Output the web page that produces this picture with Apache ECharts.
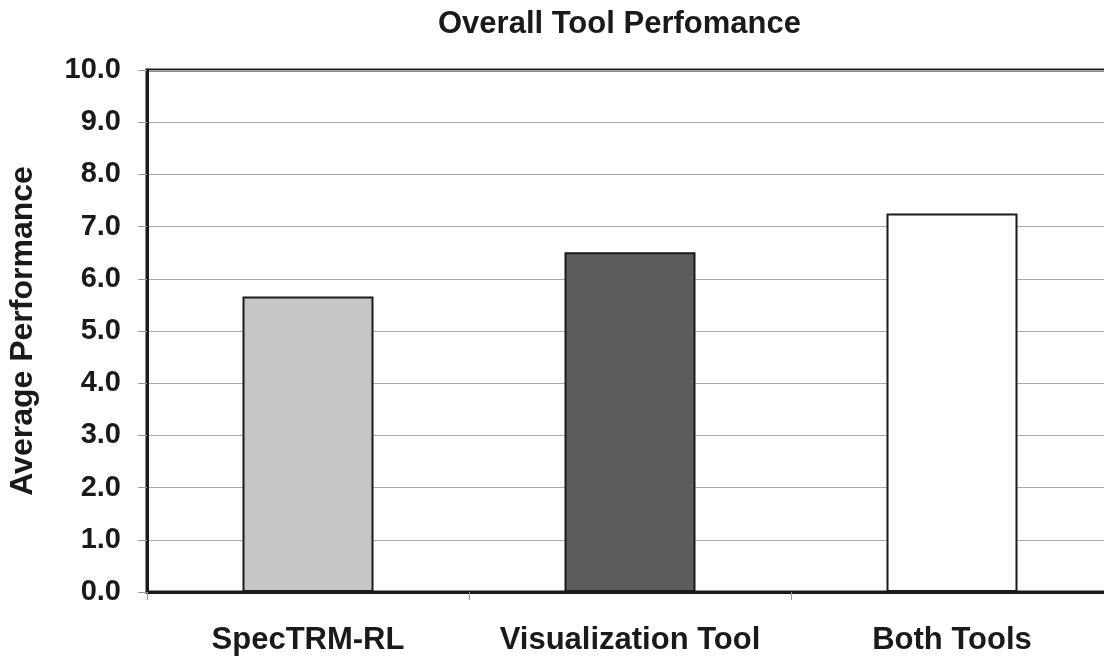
<!DOCTYPE html>
<html>
<head>
<meta charset="utf-8">
<script src="https://cdn.jsdelivr.net/npm/echarts@6/dist/echarts.min.js"></script>
<style>
html,body{margin:0;padding:0;background:#fff;}
#chart{width:1104px;height:656px;}
</style>
</head>
<body>
<div id="chart"></div>
<script>
const categories = ['SpecTRM-RL', 'Visualization Tool', 'Both Tools'];
const values = [5.66, 6.51, 7.25];
const barColors = ['#c6c6c6', '#5c5c5c', '#ffffff'];
const titleText = 'Overall Tool Perfomance';
const yAxisName = 'Average Performance';

const FONT = "'Liberation Sans', Arial, sans-serif";
const chart = echarts.init(document.getElementById('chart'), null, {renderer: 'canvas'});
chart.setOption({
  animation: false,
  backgroundColor: '#ffffff',
  title: {
    text: titleText,
    left: 433,
    top: 4,
    textStyle: {fontFamily: FONT, fontWeight: 'bold', fontSize: 31, color: '#1a1a1a'}
  },
  grid: {
    left: 147, top: 70, right: -9, bottom: 64,
    outerBoundsMode: 'none',
    containLabel: false,
    show: true, borderColor: '#1a1a1a', borderWidth: 3, backgroundColor: 'transparent'
  },
  xAxis: {
    type: 'category',
    data: categories,
    axisLine: {show: true, lineStyle: {color: '#1a1a1a', width: 3}},
    axisTick: {show: true, alignWithLabel: false, length: 8, lineStyle: {color: '#999', width: 1}},
    axisLabel: {fontFamily: FONT, fontWeight: 'bold', fontSize: 31, color: '#1a1a1a', margin: 33, interval: 0},
    splitLine: {show: false}
  },
  yAxis: {
    type: 'value',
    min: 0, max: 10, interval: 1,
    name: yAxisName,
    nameLocation: 'middle',
    nameGap: 108,
    nameTextStyle: {fontFamily: FONT, fontWeight: 'bold', fontSize: 32, color: '#1a1a1a'},
    axisLine: {show: true, lineStyle: {color: '#1a1a1a', width: 3}},
    axisTick: {show: true, length: 9, lineStyle: {color: '#999', width: 1}},
    axisLabel: {fontFamily: FONT, fontWeight: 'bold', fontSize: 29, color: '#1a1a1a', margin: 26,
      formatter: v => v.toFixed(1)},
    splitLine: {show: true, lineStyle: {color: '#aaaaaa', width: 1}}
  },
  series: [{
    type: 'bar',
    data: values.map((v, i) => ({value: v, itemStyle: {color: barColors[i]}})),
    barWidth: 131,
    itemStyle: {borderColor: '#1a1a1a', borderWidth: 2}
  }]
});
</script>
</body>
</html>
